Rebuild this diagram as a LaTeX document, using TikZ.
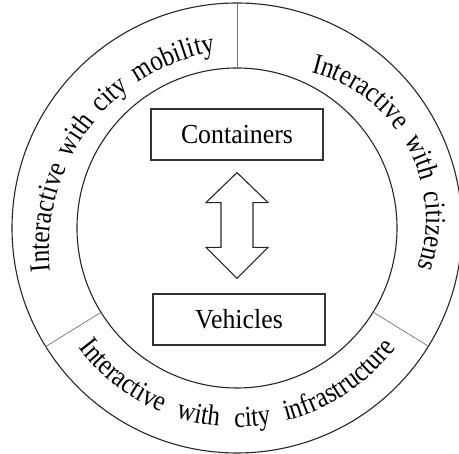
\documentclass[tikz,border=0pt]{standalone}
\usepackage{fontspec}
\setmainfont{Liberation Serif}
\newfontfamily\ringfont[FakeStretch=0.86]{Liberation Serif}
\newfontfamily\boxfont[FakeStretch=0.94]{Liberation Serif}
\usetikzlibrary{decorations.text,calc}
\begin{document}
\begin{tikzpicture}[x=1pt,y=1pt,
  ring/.style={line width=1.1pt,draw=black!85},
  divider/.style={line width=0.7pt,draw=black!55},
  item/.style={draw=black!80,line width=1.2pt,minimum width=172pt,minimum height=51pt,
    inner sep=0pt,font=\boxfont\fontsize{27.5}{30}\selectfont},
  ringtext/.style={decorate,decoration={text along path,
    text={|\ringfont\fontsize{29}{31}\selectfont|#1},
    text align={fit to path stretching spaces}}}]
\useasboundingbox (-237pt,-226pt) rectangle (222pt,228pt);
% rings
\coordinate (c) at (0,0);
\draw[ring] (c) circle[radius=225pt];
\draw[ring] (c) circle[radius=160pt];
% dividers between the three sectors
\draw[divider] (90:160pt) -- (90:225pt);
\draw[divider] (211.8:160pt) -- (211.8:225pt);
\draw[divider] (328.3:160pt) -- (328.3:225pt);
% sector captions (baselines slightly off-centre to sit inside the band)
\coordinate (lc) at (12.9,-21.8);
\coordinate (rc) at (39,9.4);
\path[ringtext={Interactive with city mobility}]
  ($(lc)+(186.1:201pt)$) arc[start angle=186.1,end angle=99.9,radius=201pt];
\path[ringtext={Interactive with citizens}]
  ($(rc)+(76.5:150pt)$) arc[start angle=76.5,end angle=-19.2,radius=150pt];
\path[ringtext={Interactive with city infrastructure}]
  (217:199pt) arc[start angle=217,end angle=323,radius=199pt];
% inner boxes
\node[item] (cont) at (0,93.5) {Containers};
\node[item] (veh) at (2,-91.5) {Vehicles};
% two-headed block arrow between the boxes
\coordinate (top) at ($(cont.south)+(0,-12)$);
\coordinate (bot) at ($(veh.north)+(-2,15)$);
\draw[line width=1.1pt,draw=black!85,line join=miter]
  (top) -- ($(top)+(31,-30)$) -- ($(top)+(16,-30)$) -- ($(bot)+(16,31)$) -- ($(bot)+(31,31)$)
  -- (bot) -- ($(bot)+(-31,31)$) -- ($(bot)+(-16,31)$) -- ($(top)+(-16,-30)$) -- ($(top)+(-31,-30)$) -- cycle;
\end{tikzpicture}
\end{document}
